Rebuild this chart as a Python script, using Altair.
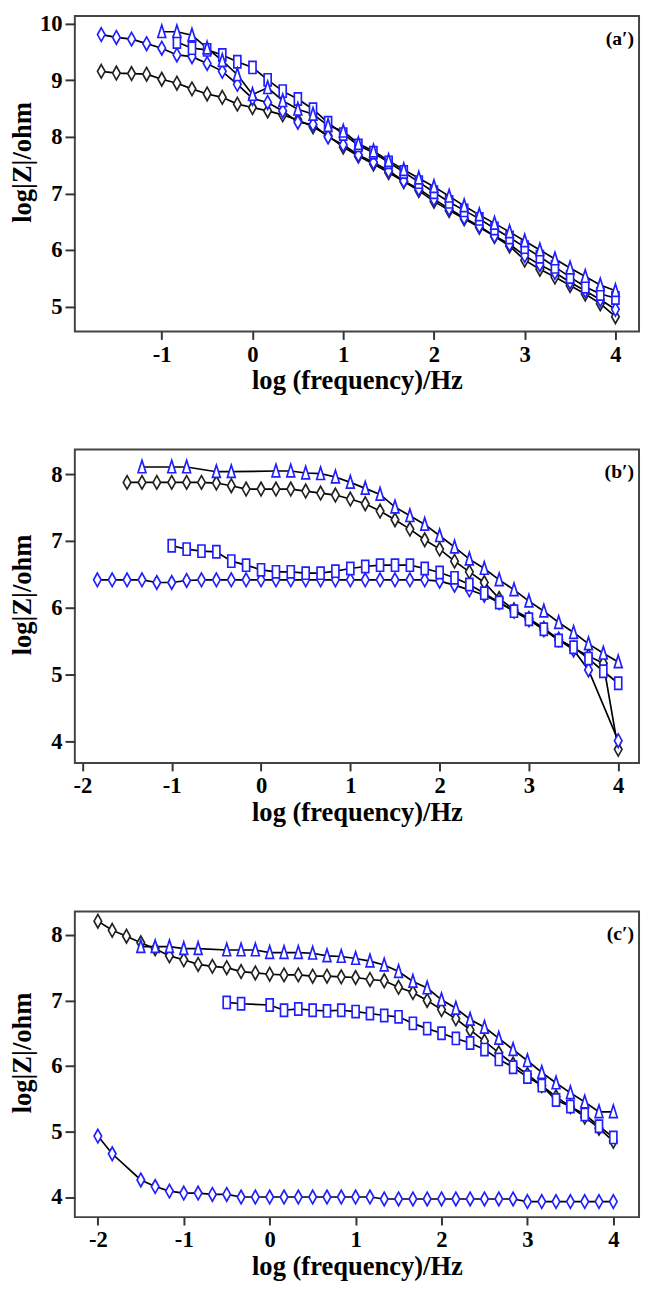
import altair as alt
import pandas as pd

# ---- shared frequency grid (log f / Hz): 6 points per decade
LOGF = [-2.0, -1.833, -1.667, -1.5, -1.333, -1.167, -1.0, -0.833, -0.667, -0.5, -0.333, -0.167,
        0.0, 0.167, 0.333, 0.5, 0.667, 0.833, 1.0, 1.167, 1.333, 1.5, 1.667, 1.833,
        2.0, 2.167, 2.333, 2.5, 2.667, 2.833, 3.0, 3.167, 3.333, 3.5, 3.667, 3.833, 4.0]

SERIES = ["black diamond", "blue diamond", "blue square", "blue triangle"]

# ---- panel (a')
A_X_BDIA = LOGF[2:]
A_Y_BDIA = [9.16, 9.13, 9.12, 9.11, 9.02, 8.95, 8.85, 8.76, 8.70, 8.58, 8.52, 8.46, 8.39, 8.30,
            8.18, 8.02, 7.82, 7.66, 7.52, 7.37, 7.21, 7.05, 6.86, 6.70, 6.55, 6.40, 6.24, 6.07,
            5.82, 5.66, 5.52, 5.37, 5.22, 5.05, 4.82]
A_X_UDIA = LOGF[2:]
A_Y_UDIA = [9.81, 9.76, 9.73, 9.65, 9.57, 9.45, 9.42, 9.30, 9.16, 8.93, 8.68, 8.61, 8.46, 8.26,
            8.22, 8.00, 7.86, 7.68, 7.55, 7.40, 7.22, 7.08, 6.90, 6.73, 6.57, 6.42, 6.25, 6.10,
            5.90, 5.74, 5.60, 5.43, 5.28, 5.12, 4.95]
A_X_SQ = LOGF[7:]
A_Y_SQ = [9.68, 9.57, 9.54, 9.45, 9.33, 9.23, 9.01, 8.81, 8.67, 8.49, 8.25, 8.05, 7.85, 7.72,
          7.55, 7.38, 7.20, 7.02, 6.85, 6.70, 6.55, 6.38, 6.22, 6.05, 5.88, 5.70, 5.52, 5.35,
          5.22, 5.15]
A_X_TRI = LOGF[6:]
A_Y_TRI = [9.86, 9.86, 9.80, 9.57, 9.35, 9.10, 8.75, 8.87, 8.64, 8.49, 8.40, 8.20, 8.10, 7.88,
           7.75, 7.58, 7.42, 7.27, 7.12, 6.95, 6.78, 6.62, 6.47, 6.32, 6.16, 6.00, 5.84, 5.68,
           5.53, 5.38, 5.28]

# ---- panel (b')
B_X_BDIA = LOGF[3:]
B_Y_BDIA = [7.88, 7.88, 7.88, 7.88, 7.88, 7.88, 7.87, 7.83, 7.78, 7.78, 7.78, 7.78, 7.75, 7.72,
            7.69, 7.63, 7.56, 7.45, 7.32, 7.18, 7.02, 6.88, 6.70, 6.54, 6.38, 6.14, 5.97, 5.84,
            5.69, 5.53, 5.40, 5.28, 5.17, 3.88]
B_X_UDIA = LOGF[1:35] + [4.0]
B_Y_UDIA = [6.42, 6.42, 6.42, 6.42, 6.38, 6.38, 6.41, 6.42, 6.42, 6.42, 6.42, 6.42, 6.42, 6.42,
            6.42, 6.42, 6.42, 6.42, 6.42, 6.42, 6.42, 6.42, 6.42, 6.40, 6.34, 6.27, 6.19, 6.08,
            5.95, 5.82, 5.67, 5.52, 5.37, 5.07, 4.01]
B_X_SQ = LOGF[6:]
B_Y_SQ = [6.93, 6.88, 6.85, 6.84, 6.70, 6.64, 6.57, 6.54, 6.54, 6.52, 6.52, 6.55, 6.59, 6.62,
          6.64, 6.64, 6.64, 6.59, 6.53, 6.45, 6.35, 6.22, 6.08, 5.95, 5.83, 5.68, 5.51, 5.41,
          5.24, 5.05, 4.87]
B_X_TRI = [-1.333, -1.0, -0.833, -0.5, -0.333] + LOGF[13:]
B_Y_TRI = [8.11, 8.11, 8.11, 8.04, 8.04, 8.05, 8.05, 8.02, 8.01, 7.96, 7.88, 7.79, 7.70, 7.51,
           7.38, 7.25, 7.08, 6.91, 6.73, 6.59, 6.42, 6.27, 6.10, 5.95, 5.78, 5.63, 5.46, 5.32,
           5.19]

# ---- panel (c')
C_X_BDIA = LOGF[:]
C_Y_BDIA = [8.21, 8.07, 7.98, 7.88, 7.79, 7.68, 7.62, 7.55, 7.52, 7.50, 7.44, 7.42, 7.40, 7.39,
            7.39, 7.37, 7.37, 7.36, 7.35, 7.32, 7.30, 7.20, 7.12, 7.00, 6.86, 6.72, 6.55, 6.38,
            6.20, 6.03, 5.87, 5.70, 5.53, 5.38, 5.22, 5.05, 4.85]
C_X_UDIA = [-2.0, -1.833] + LOGF[3:]
C_Y_UDIA = [4.93, 4.66, 4.26, 4.16, 4.09, 4.06, 4.06, 4.04, 4.04, 4.00, 4.00, 4.00, 4.00, 4.00,
            4.00, 4.00, 4.00, 4.00, 4.00, 3.97, 3.97, 3.97, 3.97, 3.97, 3.97, 3.97, 3.97, 3.97,
            3.97, 3.93, 3.93, 3.93, 3.93, 3.93, 3.93, 3.93]
C_X_SQ = [-0.5, -0.333] + LOGF[12:]
C_Y_SQ = [6.97, 6.95, 6.93, 6.85, 6.87, 6.85, 6.84, 6.85, 6.83, 6.80, 6.77, 6.75, 6.65, 6.57,
          6.50, 6.42, 6.35, 6.25, 6.10, 5.98, 5.83, 5.70, 5.48, 5.38, 5.26, 5.08, 4.91]
C_X_TRI = [-1.5, -1.333, -1.167, -1.0, -0.833] + LOGF[9:]
C_Y_TRI = [7.82, 7.82, 7.82, 7.79, 7.79, 7.77, 7.77, 7.77, 7.73, 7.73, 7.73, 7.72, 7.68, 7.67,
           7.64, 7.60, 7.54, 7.44, 7.29, 7.19, 7.01, 6.88, 6.71, 6.59, 6.42, 6.25, 6.08, 5.90,
           5.74, 5.59, 5.45, 5.30, 5.30]

# ---- style
BLUE = "#1f1fff"
COLORS = ["#222222", BLUE, BLUE, BLUE]
SHAPES = ["M0,-1L0.56,0L0,1L-0.56,0Z",
          "M0,-1L0.56,0L0,1L-0.56,0Z",
          "M-0.52,-0.9L0.52,-0.9L0.52,0.9L-0.52,0.9Z",
          "M0,-1L0.58,0.85L-0.58,0.85Z"]
FONT = "Liberation Serif"
W = 574


def panel(series, xdom, ydom, xticks, yticks, h, label):
    rows = []
    for name, xs, ys in series:
        assert len(xs) == len(ys), (label, name, len(xs), len(ys))
        for i, (xv, yv) in enumerate(zip(xs, ys)):
            rows.append({"series": name, "x": xv, "y": yv, "i": i})
    df = pd.DataFrame(rows)
    xenc = alt.X("x:Q", scale=alt.Scale(domain=xdom, nice=False, zero=False),
                 axis=alt.Axis(values=xticks, title="log (frequency)/Hz", tickSize=8,
                               labelPadding=4, titlePadding=2,
                               labelExpr="'' + datum.value"))
    yenc = alt.Y("y:Q", scale=alt.Scale(domain=ydom, nice=False, zero=False),
                 axis=alt.Axis(values=yticks, title="log|Z|/ohm", tickSize=10,
                               labelPadding=3, titleX=-45, titleY=h / 2 - 12,
                               titleBaseline="alphabetic",
                               labelExpr="'' + datum.value"))
    base = alt.Chart(df)
    lines = base.mark_line(color="black", strokeWidth=1.7).encode(
        x=xenc, y=yenc, detail="series:N", order="i:Q")
    pts = base.mark_point(filled=True, fill="white", strokeWidth=1.7, size=190,
                          opacity=1).encode(
        x=xenc, y=yenc,
        shape=alt.Shape("series:N", scale=alt.Scale(domain=SERIES, range=SHAPES), legend=None),
        stroke=alt.Stroke("series:N", scale=alt.Scale(domain=SERIES, range=COLORS), legend=None))
    lbl = alt.Chart(pd.DataFrame({"t": [label]})).mark_text(
        font=FONT, fontWeight="bold", fontSize=20, align="right", baseline="middle",
        color="black").encode(text="t:N", x=alt.value(W - 5), y=alt.value(23))
    return alt.layer(lines, pts, lbl).properties(width=W, height=h)


pa = panel([("black diamond", A_X_BDIA, A_Y_BDIA), ("blue diamond", A_X_UDIA, A_Y_UDIA),
            ("blue square", A_X_SQ, A_Y_SQ), ("blue triangle", A_X_TRI, A_Y_TRI)],
           [-1.958, 4.26], [4.557, 10.139], [-1, 0, 1, 2, 3, 4], [5, 6, 7, 8, 9, 10], 321, "(a′)")
pb = panel([("black diamond", B_X_BDIA, B_Y_BDIA), ("blue diamond", B_X_UDIA, B_Y_UDIA),
            ("blue square", B_X_SQ, B_Y_SQ), ("blue triangle", B_X_TRI, B_Y_TRI)],
           [-2.085, 4.233], [3.675, 8.373], [-2, -1, 0, 1, 2, 3, 4], [4, 5, 6, 7, 8], 319, "(b′)")
pc = panel([("black diamond", C_X_BDIA, C_Y_BDIA), ("blue diamond", C_X_UDIA, C_Y_UDIA),
            ("blue square", C_X_SQ, C_Y_SQ), ("blue triangle", C_X_TRI, C_Y_TRI)],
           [-2.268, 4.299], [3.693, 8.358], [-2, -1, 0, 1, 2, 3, 4], [4, 5, 6, 7, 8], 311, "(c′)")

top = alt.vconcat(pa, pb, spacing=55)
chart = alt.vconcat(top, pc, spacing=85).properties(
    padding={"left": 0, "top": -8, "right": 1, "bottom": 0}
).configure_axis(
    labelFont=FONT, labelFontWeight="bold", labelFontSize=23, labelColor="black",
    titleFont=FONT, titleFontWeight="bold", titleFontSize=27, titleColor="black",
    grid=False, domain=False, tickColor="#333333", tickWidth=2
).configure_view(stroke="#444444", strokeWidth=2)

chart.save("out.html", embed_options={"renderer": "svg", "actions": False})
